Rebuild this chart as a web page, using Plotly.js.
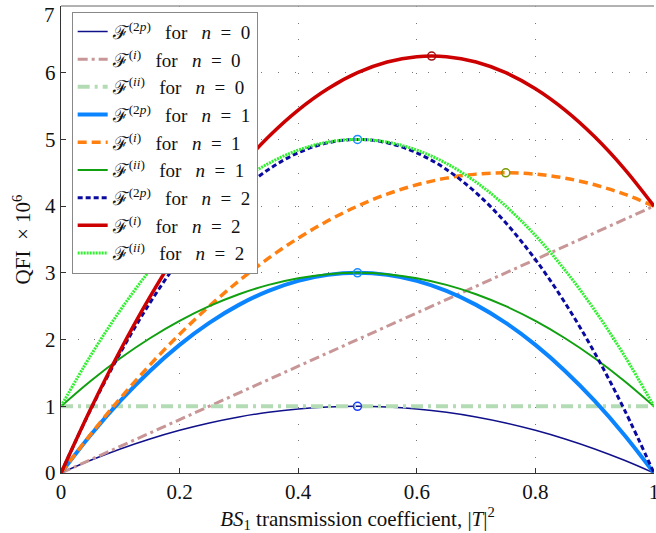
<!DOCTYPE html>
<html>
<head>
<meta charset="utf-8">
<script src="https://cdn.plot.ly/plotly-3.0.1.min.js"></script>
<style>html,body{margin:0;padding:0;background:#fff;}#chart{width:656px;height:533px;}</style>
</head>
<body>
<div id="chart"></div>
<script>
// transmission coefficient samples
const T = [0,0.05,0.1,0.15,0.2,0.25,0.3,0.35,0.4,0.45,0.5,0.55,0.6,0.65,0.7,0.75,0.8,0.85,0.9,0.95,1];
const Tends = [0, 1];
// QFI x 10^6
const F2p_n0 = [0,0.19,0.36,0.51,0.64,0.75,0.84,0.91,0.96,0.99,1,0.99,0.96,0.91,0.84,0.75,0.64,0.51,0.36,0.19,0];
const Fi_n0  = [0, 4];
const Fii_n0 = [1, 1];
const F2p_n1 = [0,0.57,1.08,1.53,1.92,2.25,2.52,2.73,2.88,2.97,3,2.97,2.88,2.73,2.52,2.25,1.92,1.53,1.08,0.57,0];
const Fi_n1  = [0,0.58,1.12,1.62,2.08,2.5,2.88,3.22,3.52,3.78,4,4.18,4.32,4.42,4.48,4.5,4.48,4.42,4.32,4.18,4];
const Fii_n1 = [1,1.38,1.72,2.02,2.28,2.5,2.68,2.82,2.92,2.98,3,2.98,2.92,2.82,2.68,2.5,2.28,2.02,1.72,1.38,1];
const F2p_n2 = [0,0.95,1.8,2.55,3.2,3.75,4.2,4.55,4.8,4.95,5,4.95,4.8,4.55,4.2,3.75,3.2,2.55,1.8,0.95,0];
const Fi_n2  = [0,0.96,1.84,2.64,3.36,4,4.56,5.04,5.44,5.76,6,6.16,6.24,6.24,6.16,6,5.76,5.44,5.04,4.56,4];
const Fii_n2 = [1,1.76,2.44,3.04,3.56,4,4.36,4.64,4.84,4.96,5,4.96,4.84,4.64,4.36,4,3.56,3.04,2.44,1.76,1];
// maxima markers
const peakT = [0.5, 0.5, 0.5, 0.75, 0.625];
const peakF = [1, 3, 5, 4.5, 6.25];
const peakColors = ['#1f3fff', '#1a8cff', '#1a8cff', '#7a9a00', '#a01010'];
// axis ticks
const xTicks = [0, 0.2, 0.4, 0.6, 0.8, 1];
const xTickText = ['0', '0.2', '0.4', '0.6', '0.8', '1'];
const yTicks = [0, 1, 2, 3, 4, 5, 6, 7];
const yTickText = ['0', '1', '2', '3', '4', '5', '6', ''];

const S = '\u00A0';
function lbl(sup, n) {
  return 'ℱ<sup>' + sup + '</sup>' + S + S + S + 'for' + S + S + S + '<i>n</i>' + S + S + '=' + S + S + n;
}
const names = [
  lbl('(2<i>p</i>)', 0), lbl('(<i>i</i>)', 0), lbl('(<i>ii</i>)', 0),
  lbl('(2<i>p</i>)', 1), lbl('(<i>i</i>)', 1), lbl('(<i>ii</i>)', 1),
  lbl('(2<i>p</i>)', 2), lbl('(<i>i</i>)', 2), lbl('(<i>ii</i>)', 2)
];

function tr(x, y, name, color, width, dash) {
  return {x: x, y: y, name: name, mode: 'lines', type: 'scatter',
    line: {color: color, width: width, dash: dash, shape: 'spline', smoothing: 1}};
}

const data = [
  tr(T, F2p_n0, names[0], '#10108a', 1.5, 'solid'),
  tr(Tends, Fi_n0, names[1], '#c89696', 3, '10px,4px,3px,4px'),
  tr(Tends, Fii_n0, names[2], '#b4dcb4', 4, '12px,5px,3px,5px'),
  tr(T, F2p_n1, names[3], '#0a84ff', 4, 'solid'),
  tr(T, Fi_n1, names[4], '#ff8010', 3.5, '9px,5px'),
  tr(T, Fii_n1, names[5], '#10a010', 2, 'solid'),
  tr(T, F2p_n2, names[6], '#0a0aa0', 3, '5px,3px'),
  tr(T, Fi_n2, names[7], '#cc0000', 3.5, 'solid'),
  tr(T, Fii_n2, names[8], '#30f030', 3, '2px,1px'),
  {x: peakT, y: peakF, mode: 'markers', type: 'scatter', showlegend: false,
   marker: {symbol: 'circle-open', size: 8, color: peakColors, line: {width: 1.5, color: peakColors}}}
];

const serif = '"Liberation Serif", "DejaVu Serif", serif';
const layout = {
  width: 656, height: 533,
  margin: {l: 61, r: 2, t: 6, b: 60},
  paper_bgcolor: '#fff', plot_bgcolor: '#fff',
  font: {family: serif, size: 20, color: '#111'},
  showlegend: true,
  legend: {x: 0.018, y: 0.988, xanchor: 'left', yanchor: 'top',
    bgcolor: '#fff', bordercolor: '#888', borderwidth: 1,
    font: {family: serif, size: 19, color: '#111'}, tracegroupgap: 0},
  xaxis: {
    range: [0, 1], tickvals: xTicks, ticktext: xTickText,
    ticks: 'inside', ticklen: 5, tickcolor: '#333', showline: true, linecolor: '#333', linewidth: 1.2,
    showgrid: true, gridcolor: '#777', gridwidth: 1, griddash: '1px,15.7px', zeroline: false,
    ticklabeloverflow: 'allow',
    title: {text: '<i>BS</i><sub>1</sub> transmission coefficient, |<i>T</i>|<sup>2</sup>', font: {family: serif, size: 21}, standoff: 2},
    tickfont: {family: serif, size: 21}
  },
  yaxis: {
    range: [0, 7], tickvals: yTicks, ticktext: yTickText,
    ticks: 'inside', ticklen: 5, tickcolor: '#333', showline: true, linecolor: '#333', linewidth: 1.2,
    showgrid: true, gridcolor: '#777', gridwidth: 1, griddash: '1px,15.7px', zeroline: false,
    ticklabeloverflow: 'allow',
    title: {text: 'QFI' + S + S + '× 10<sup>6</sup>', font: {family: serif, size: 21}, standoff: 8},
    tickfont: {family: serif, size: 21}
  },
  annotations: [{text: '7', xref: 'paper', yref: 'y', x: 0, y: 7, xanchor: 'right', yanchor: 'top',
    xshift: -4, yshift: 5, showarrow: false, font: {family: serif, size: 21, color: '#111'}}],
  shapes: [{type: 'line', xref: 'paper', yref: 'paper', x0: 0, x1: 1, y0: 1, y1: 1,
    line: {color: '#999', width: 1.5}}]
};

Plotly.newPlot('chart', data, layout, {displayModeBar: false, staticPlot: true});
</script>
</body>
</html>
